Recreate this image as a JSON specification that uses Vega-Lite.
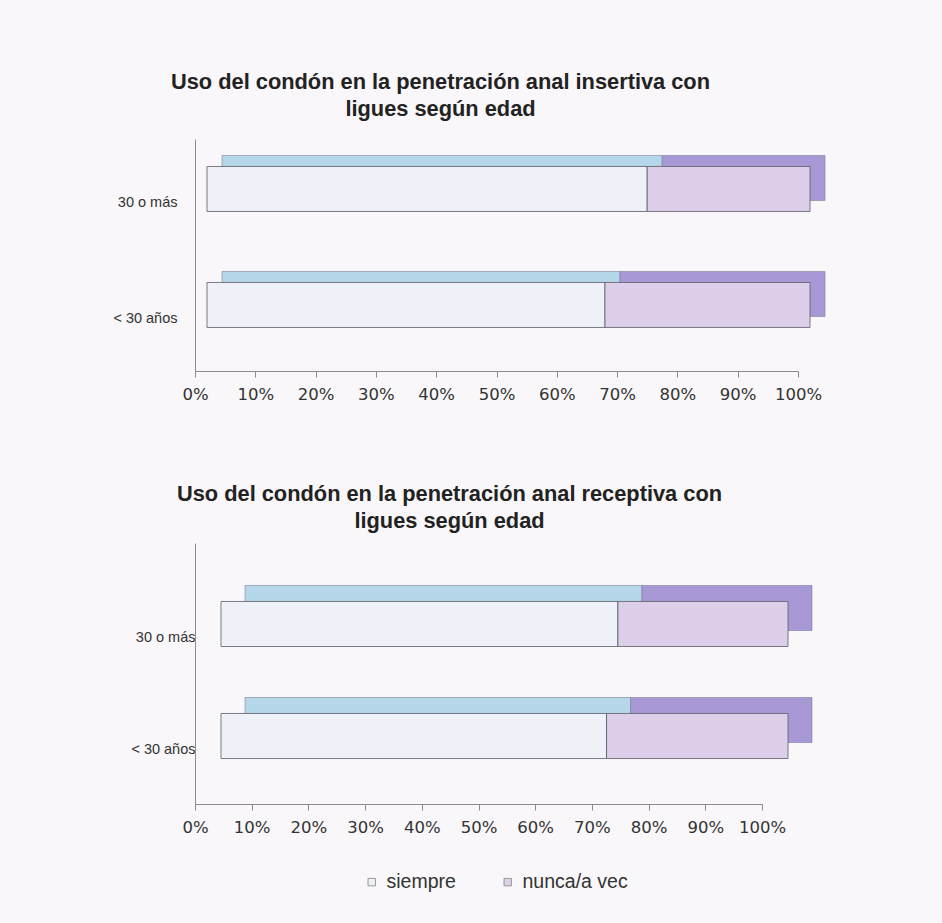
{
  "$schema": "https://vega.github.io/schema/vega-lite/v6.json",
  "background": "#f9f7f9",
  "padding": {"left": 0, "top": 72, "right": 116, "bottom": 95},
  "datasets": {
    "insertiva": [
      {"edad": "30 o más", "tipo": "siempre", "pct": 0.73, "k": 1},
      {"edad": "30 o más", "tipo": "nunca/a vec", "pct": 0.27, "k": 2},
      {"edad": "< 30 años", "tipo": "siempre", "pct": 0.66, "k": 1},
      {"edad": "< 30 años", "tipo": "nunca/a vec", "pct": 0.34, "k": 2}
    ],
    "receptiva": [
      {"edad": "30 o más", "tipo": "siempre", "pct": 0.70, "k": 1},
      {"edad": "30 o más", "tipo": "nunca/a vec", "pct": 0.30, "k": 2},
      {"edad": "< 30 años", "tipo": "siempre", "pct": 0.68, "k": 1},
      {"edad": "< 30 años", "tipo": "nunca/a vec", "pct": 0.32, "k": 2}
    ]
  },
  "config": {
    "view": {"stroke": null},
    "font": "Liberation Sans",
    "axis": {"grid": false, "domainColor": "#8c8c8c", "tickColor": "#8c8c8c", "labelColor": "#333333", "title": null},
    "title": {"font": "Liberation Sans", "fontSize": 21.8, "fontWeight": "bold", "color": "#222222", "lineHeight": 27},
    "legend": {"orient": "none", "direction": "horizontal", "legendX": 167, "legendY": 733, "title": null,
               "symbolType": "square", "symbolSize": 55, "symbolStrokeColor": "#999999", "symbolStrokeWidth": 1,
               "labelFont": "Liberation Sans", "labelFontSize": 19.5, "labelColor": "#333333", "columnPadding": 42, "labelOffset": 5}
  },
  "vconcat": [
    {
      "title": {"text": ["Uso del condón en la penetración anal insertiva con", "ligues según edad"], "dx": -56, "offset": 18},
      "width": 603,
      "height": 232,
      "data": {"name": "insertiva"},
      "encoding": {
        "y": {"field": "edad", "type": "nominal", "sort": ["30 o más", "< 30 años"],
              "scale": {"paddingInner": 0.612, "paddingOuter": 0.306, "align": 0.556},
              "axis": {"ticks": false, "labelFont": "Liberation Sans", "labelFontSize": 14.5, "labelPadding": 18, "labelOffset": 2, "minExtent": 195, "maxExtent": 195}},
        "x": {"field": "pct", "type": "quantitative", "stack": "zero",
              "scale": {"domain": [0, 1], "nice": false},
              "axis": {"values": [0, 0.1, 0.2, 0.3, 0.4, 0.5, 0.6, 0.7, 0.8, 0.9, 1], "format": ".0%", "labelFont": "DejaVu Sans", "labelFontSize": 16.5, "labelOverlap": false, "labelFlush": false, "tickSize": 6, "labelPadding": 9, "minExtent": 40, "maxExtent": 40}},
        "order": {"field": "k", "type": "quantitative"}
      },
      "layer": [
        {
          "mark": {"type": "bar", "xOffset": 27, "yOffset": -23, "stroke": "#7a7f96", "strokeWidth": 0.6},
          "encoding": {"fill": {"field": "tipo", "type": "nominal", "legend": null,
                                 "scale": {"domain": ["nunca/a vec", "siempre"], "range": ["#a898d6", "#b6d6ea"]}}}
        },
        {
          "mark": {"type": "bar", "xOffset": 12, "yOffset": -12, "stroke": "#5a5a66", "strokeWidth": 0.8},
          "encoding": {"color": {"field": "tipo", "type": "nominal",
                                  "scale": {"domain": ["siempre", "nunca/a vec"], "range": ["#eef1f7", "#ddcfe9"]}}}
        }
      ]
    },
    {
      "title": {"text": ["Uso del condón en la penetración anal receptiva con", "ligues según edad"], "dx": -29, "offset": 10},
      "width": 567,
      "height": 261,
      "data": {"name": "receptiva"},
      "encoding": {
        "y": {"field": "edad", "type": "nominal", "sort": ["30 o más", "< 30 años"],
              "scale": {"paddingInner": 0.598, "paddingOuter": 0.464, "align": 0.678},
              "axis": {"ticks": false, "labelFont": "Liberation Sans", "labelFontSize": 14.5, "labelPadding": 0, "labelOffset": 2, "minExtent": 195, "maxExtent": 195}},
        "x": {"field": "pct", "type": "quantitative", "stack": "zero",
              "scale": {"domain": [0, 1], "nice": false},
              "axis": {"values": [0, 0.1, 0.2, 0.3, 0.4, 0.5, 0.6, 0.7, 0.8, 0.9, 1], "format": ".0%", "labelFont": "DejaVu Sans", "labelFontSize": 16.5, "labelOverlap": false, "labelFlush": false, "tickSize": 6, "labelPadding": 9, "minExtent": 40, "maxExtent": 40}},
        "order": {"field": "k", "type": "quantitative"}
      },
      "layer": [
        {
          "mark": {"type": "bar", "xOffset": 50, "yOffset": -28, "stroke": "#7a7f96", "strokeWidth": 0.6},
          "encoding": {"fill": {"field": "tipo", "type": "nominal", "legend": null,
                                 "scale": {"domain": ["nunca/a vec", "siempre"], "range": ["#a898d6", "#b6d6ea"]}}}
        },
        {
          "mark": {"type": "bar", "xOffset": 26, "yOffset": -12, "stroke": "#5a5a66", "strokeWidth": 0.8},
          "encoding": {"color": {"field": "tipo", "type": "nominal",
                                  "scale": {"domain": ["siempre", "nunca/a vec"], "range": ["#eef1f7", "#ddcfe9"]}}}
        }
      ]
    }
  ],
  "spacing": 73,
  "align": "none",
  "bounds": "full"
}
